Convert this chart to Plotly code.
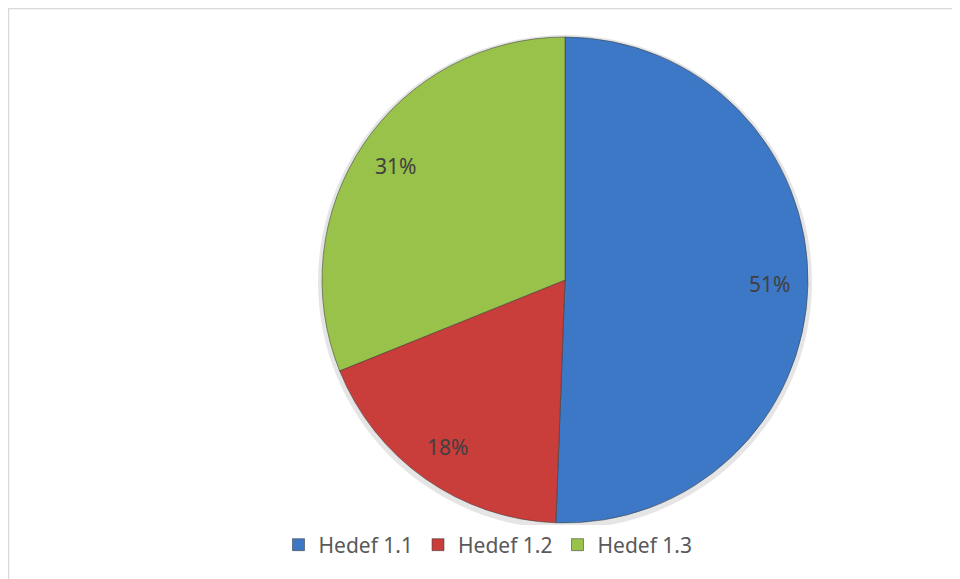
import math
import plotly.graph_objects as go

labels = ["Hedef 1.1", "Hedef 1.2", "Hedef 1.3"]
values = [50.6, 18.3, 31.1]
colors = ["#3D78C6", "#C93D3B", "#98C249"]

W, H = 960, 579
OFF = 8  # page body margin offset
cx, cy, R = 565 - OFF, 280 - OFF, 243

x0, x1 = (cx - R) / W, (cx + R) / W
y0, y1 = 1 - (cy + R) / H, 1 - (cy - R) / H

fig = go.Figure()

# faint shadow behind the pie
fig.add_trace(go.Pie(
    labels=["shadow"], values=[1], sort=False,
    marker=dict(colors=["rgba(0,0,0,0.10)"], line=dict(width=0)),
    textinfo="none", hoverinfo="skip", showlegend=False,
    domain=dict(x=[(cx - R - 4) / W, (cx + R + 4) / W],
                y=[1 - (cy + R + 6) / H, 1 - (cy - R - 2) / H]),
))

fig.add_trace(go.Pie(
    labels=labels, values=values, sort=False, direction="clockwise", rotation=0,
    marker=dict(colors=colors, line=dict(color="rgba(60,60,60,0.55)", width=1)),
    textinfo="none", hoverinfo="label+percent",
    domain=dict(x=[x0, x1], y=[y0, y1]),
))

# percent labels placed along each slice's mid-angle
total = sum(values)
cum = 0.0
annotations = []
for v in values:
    mid = (cum + v / 2) / total * 2 * math.pi
    cum += v
    px = cx + 0.84 * R * math.sin(mid)
    py = cy - 0.84 * R * math.cos(mid)
    annotations.append(dict(
        x=px / W, y=1 - py / H, xref="paper", yref="paper",
        xanchor="center", yanchor="middle",
        text=f"{round(v / total * 100)}%", showarrow=False,
        font=dict(family="Noto Sans, Open Sans, sans-serif", size=21, color="#404040"),
    ))

fig.update_layout(
    width=W, height=H,
    margin=dict(l=0, r=0, t=0, b=0),
    paper_bgcolor="white", plot_bgcolor="white",
    annotations=annotations,
    legend=dict(
        orientation="h", x=0.5, xanchor="center", y=1 - (545 - OFF) / H, yanchor="middle",
        font=dict(family="Noto Sans, Open Sans, sans-serif", size=21, color="#595959"),
        itemwidth=30, traceorder="normal",
    ),
    shapes=[
        dict(type="line", xref="paper", yref="paper",
             x0=0, x1=1, y0=1 - 0.5 / H, y1=1 - 0.5 / H,
             line=dict(color="#D9D9D9", width=1.5)),
        dict(type="line", xref="paper", yref="paper",
             x0=0.5 / W, x1=0.5 / W, y0=0, y1=1,
             line=dict(color="#D9D9D9", width=1.5)),
    ],
)

fig.write_html("out.html")
